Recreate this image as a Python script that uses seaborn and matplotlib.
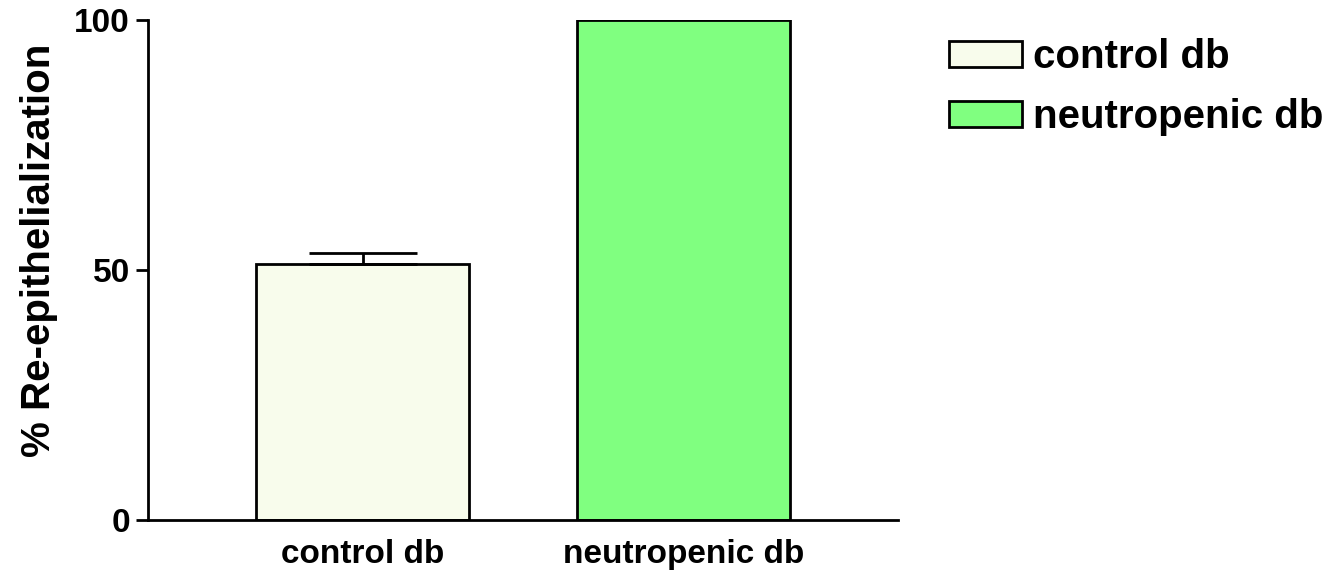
import matplotlib
matplotlib.use("Agg")
import matplotlib.pyplot as plt
import seaborn as sns
import pandas as pd
from matplotlib.patches import Patch

categories = ["control db", "neutropenic db"]
values = [51.2, 100.0]
errors = [2.2, 0.0]
colors = ["#F8FCEC", "#80FF80"]
yticks = [0, 50, 100]

sns.set_theme(style="white")
plt.rcParams['font.family'] = ['Liberation Sans', 'DejaVu Sans']
plt.rcParams['font.weight'] = 'bold'
plt.rcParams['text.color'] = 'black'
plt.rcParams['xtick.color'] = 'black'
plt.rcParams['ytick.color'] = 'black'
plt.rcParams['axes.labelcolor'] = 'black'

df = pd.DataFrame({"group": categories, "value": values})

fig = plt.figure(figsize=(13.4, 5.77), dpi=100)
ax = fig.add_axes([148/1340, 1-520/577, 750/1340, 500/577])

sns.barplot(data=df, x="group", y="value", hue="group", palette=colors,
            order=categories, hue_order=categories, dodge=False, legend=False,
            saturation=1, width=0.665, edgecolor="black", linewidth=2,
            errorbar=None, ax=ax)

for i, (v, e) in enumerate(zip(values, errors)):
    if e > 0:
        ax.errorbar(i, v, yerr=[[0], [e]], fmt="none", ecolor="black",
                    elinewidth=2, capsize=39, capthick=2, zorder=1)

ax.set_xlim(-0.67, 1.67)
ax.set_ylim(0, 100)
ax.set_yticks(yticks)
ax.set_yticklabels([str(t) for t in yticks], fontsize=24, fontweight="bold")
ax.tick_params(axis="y", which="major", direction="out", length=9, width=2, left=True, pad=4)
ax.tick_params(axis="x", length=0, pad=14, labelsize=24)
for lbl in ax.get_xticklabels():
    lbl.set_fontweight("bold")
ax.set_xlabel("")
ax.set_ylabel("% Re-epithelialization", fontsize=29, fontweight="bold")
ax.yaxis.set_label_coords(-0.12, 0.54)
sns.despine(ax=ax)
for s in ["left", "bottom"]:
    ax.spines[s].set_linewidth(2)
    ax.spines[s].set_color("black")

handles = [Patch(facecolor=c, edgecolor="black", linewidth=2, label=l) for c, l in zip(colors, categories)]
fig.legend(handles=handles, loc="upper left", bbox_to_anchor=(933/1340, 1-22/577),
           frameon=False, prop={"family": "Liberation Sans", "weight": "bold", "size": 29},
           handlelength=1.8, handleheight=0.62, handletextpad=0.28, labelspacing=0.55,
           borderaxespad=0)

fig.savefig("out.png", dpi=100)
